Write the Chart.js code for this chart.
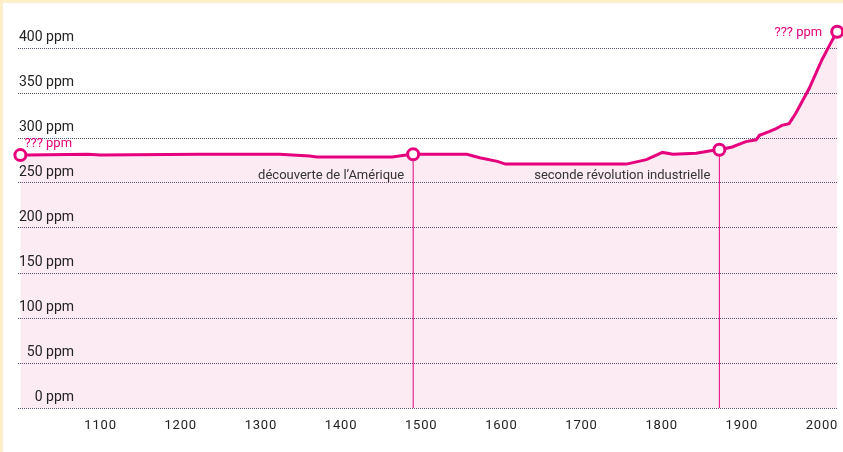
<!DOCTYPE html>
<html>
<head>
<meta charset="utf-8">
<script src="https://cdn.jsdelivr.net/npm/chart.js@4/dist/chart.umd.min.js"></script>
<style>
  html, body { margin: 0; padding: 0; background: #fdf0c9; width: 843px; height: 452px; overflow: hidden; }
  #panel { position: absolute; left: 3px; top: 3px; right: 0; bottom: 0; background: #ffffff; }
  #c { position: absolute; left: 0; top: 0; }
</style>
</head>
<body>
<div id="panel"></div>
<canvas id="c" width="843" height="452"></canvas>
<script>
// ---- data ----
const years = [1000, 1010, 1084, 1100, 1224, 1323, 1361, 1370, 1464, 1481, 1490, 1557, 1573, 1595, 1605, 1756, 1781, 1801, 1814, 1843, 1863, 1872, 1888, 1905, 1918, 1922, 1934, 1942, 1950, 1959, 1967, 1984, 2000, 2013, 2019];
const ppm   = [281, 281, 282, 281, 282, 282, 280, 279, 279, 281, 282, 282, 278, 274, 271, 271, 276, 284, 282, 283, 286, 287, 290, 296, 298, 303, 307, 310, 314, 316, 327, 355, 387, 409, 418];
const markedYears = [1000, 1490, 1872, 2019];
const eventYears = [1490, 1872];
const eventLabels = ['découverte de l’Amérique', 'seconde révolution industrielle'];
const endLabels = ['??? ppm', '??? ppm'];
const yTicks = [0, 50, 100, 150, 200, 250, 300, 350, 400];
const xTickYears = [1100, 1200, 1300, 1400, 1500, 1600, 1700, 1800, 1900, 2000];

const PINK = '#e5007e';
const mainData = years.map((yr, i) => ({ x: yr, y: ppm[i] }));
const valueAt = yr => ppm[years.indexOf(yr)];

const eventDatasets = eventYears.map(yr => ({
  data: [{ x: yr, y: 0 }, { x: yr, y: valueAt(yr) }],
  borderColor: PINK,
  borderWidth: 1,
  pointRadius: 0,
  fill: false,
  order: 2
}));

const notes = {
  id: 'notes',
  afterDatasetsDraw(chart) {
    const { ctx, scales: { x, y } } = chart;
    ctx.save();
    ctx.textBaseline = 'middle';
    ctx.font = '13px Roboto';
    ctx.fillStyle = '#333333';
    ctx.textAlign = 'right';
    eventYears.forEach((yr, i) => {
      ctx.fillText(eventLabels[i], x.getPixelForValue(yr) - 9, y.getPixelForValue(250) - 7);
    });
    ctx.fillStyle = PINK;
    ctx.font = '13px Roboto';
    const first = years[0], last = years[years.length - 1];
    ctx.textAlign = 'left';
    ctx.fillText(endLabels[0], x.getPixelForValue(first) + 4, y.getPixelForValue(valueAt(first)) - 11);
    ctx.textAlign = 'right';
    ctx.fillText(endLabels[1], x.getPixelForValue(last) - 15, y.getPixelForValue(valueAt(last)) + 1);
    ctx.restore();
  }
};

new Chart(document.getElementById('c'), {
  type: 'line',
  data: {
    datasets: [
      {
        data: mainData,
        borderColor: PINK,
        borderWidth: 3,
        backgroundColor: '#fcebf3',
        fill: 'origin',
        tension: 0,
        clip: false,
        order: 0,
        pointRadius: ctx => markedYears.includes(years[ctx.dataIndex]) ? 5.5 : 0,
        pointBorderWidth: 3,
        pointBorderColor: PINK,
        pointBackgroundColor: '#ffffff'
      },
      ...eventDatasets
    ]
  },
  options: {
    responsive: false,
    animation: false,
    devicePixelRatio: 1,
    layout: { autoPadding: false, padding: { left: 18, right: 5, top: 12, bottom: 0 } },
    plugins: {
      legend: { display: false },
      tooltip: { enabled: false },
      filler: { drawTime: 'beforeDraw' }
    },
    scales: {
      x: {
        type: 'linear',
        min: 997,
        max: 2020,
        afterFit: s => { s.height = 44; s.paddingLeft = 0; s.paddingRight = 0; },
        afterBuildTicks: s => { s.ticks = [1000, ...xTickYears].map(v => ({ value: v })); },
        afterUpdate: s => {
          if (s._lsWrapped) return;
          s._lsWrapped = true;
          const orig = s.drawLabels;
          s.drawLabels = function (area) {
            this.ctx.save();
            this.ctx.letterSpacing = '0.8px';
            orig.call(this, area);
            this.ctx.restore();
          };
        },
        grid: { display: false, drawTicks: false },
        border: { display: false },
        ticks: {
          autoSkip: false,
          maxRotation: 0,
          padding: 10,
          color: '#222222',
          font: { family: 'Roboto', size: 13 },
          callback: v => xTickYears.includes(v) ? String(v) : ''
        }
      },
      y: {
        min: 0,
        max: 440,
        afterFit: s => { s.width = 0; },
        afterBuildTicks: s => { s.ticks = yTicks.map(v => ({ value: v })); },
        grid: { color: 'rgba(40,40,70,0.8)', lineWidth: 1, drawTicks: false },
        border: { display: false, dash: [1, 1] },
        ticks: {
          mirror: true,
          crossAlign: 'far',
          padding: 1,
          labelOffset: -11,
          color: '#222222',
          font: { family: 'Roboto', size: 14 },
          callback: v => v + ' ppm'
        }
      }
    }
  },
  plugins: [notes]
});
</script>
</body>
</html>
